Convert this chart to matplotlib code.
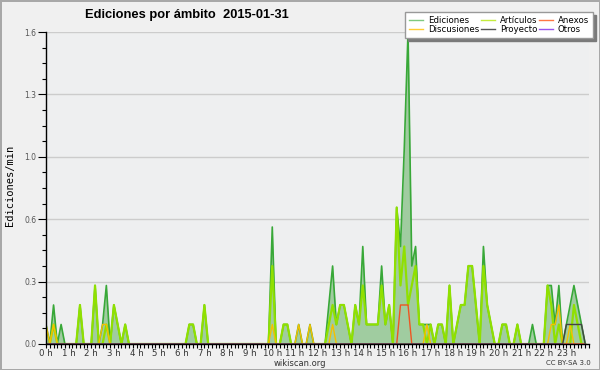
import numpy as np
import matplotlib.pyplot as plt
from matplotlib.lines import Line2D
from matplotlib.ticker import MultipleLocator, FixedLocator, FormatStrFormatter

# Ediciones por minuto en intervalos de 10 min (6 por hora, 144 en total)
ediciones = [
    0.1, 0, 0.2, 0, 0.1, 0,       # 0 h
    0, 0, 0, 0.2, 0, 0,           # 1 h
    0, 0.3, 0, 0.1, 0.3, 0,       # 2 h
    0.2, 0.1, 0, 0.1, 0, 0,       # 3 h
    0, 0, 0, 0, 0, 0,             # 4 h
    0, 0, 0, 0, 0, 0,             # 5 h
    0, 0, 0.1, 0.1, 0, 0,         # 6 h
    0.2, 0, 0, 0, 0, 0,           # 7 h
    0, 0, 0, 0, 0, 0,             # 8 h
    0, 0, 0, 0, 0, 0,             # 9 h
    0.6, 0, 0, 0.1, 0.1, 0,       # 10 h
    0, 0.1, 0, 0, 0.1, 0,         # 11 h
    0, 0, 0, 0.2, 0.4, 0.1,       # 12 h
    0.2, 0.2, 0.1, 0, 0.2, 0.1,   # 13 h
    0.5, 0.1, 0.1, 0.1, 0.1, 0.4, # 14 h
    0.1, 0.2, 0, 0.7, 0.5, 1.0,   # 15 h
    1.6, 0.4, 0.5, 0.1, 0.1, 0.1, # 16 h
    0.1, 0, 0.1, 0.1, 0, 0.3,     # 17 h
    0, 0.1, 0.2, 0.2, 0.4, 0.4,   # 18 h
    0.2, 0, 0.5, 0.2, 0.1, 0,     # 19 h
    0, 0.1, 0.1, 0, 0, 0.1,       # 20 h
    0, 0, 0, 0.1, 0, 0,           # 21 h
    0, 0.3, 0.3, 0.1, 0.3, 0,     # 22 h
    0.1, 0.2, 0.3, 0.2, 0.1, 0,   # 23 h
]

articulos = [
    0, 0, 0.1, 0, 0, 0,
    0, 0, 0, 0.2, 0, 0,
    0, 0.3, 0, 0, 0.1, 0,
    0.2, 0.1, 0, 0.1, 0, 0,
    0, 0, 0, 0, 0, 0,
    0, 0, 0, 0, 0, 0,
    0, 0, 0.1, 0.1, 0, 0,
    0.2, 0, 0, 0, 0, 0,
    0, 0, 0, 0, 0, 0,
    0, 0, 0, 0, 0, 0,
    0.4, 0, 0, 0.1, 0.1, 0,
    0, 0, 0, 0, 0, 0,
    0, 0, 0, 0.1, 0.2, 0.1,
    0.2, 0.2, 0.1, 0, 0.2, 0.1,
    0.3, 0.1, 0.1, 0.1, 0.1, 0.3,
    0.1, 0.2, 0, 0.7, 0.3, 0.5,
    0.2, 0.3, 0.4, 0.1, 0.1, 0,
    0.1, 0, 0.1, 0.1, 0, 0.3,
    0, 0.1, 0.2, 0.2, 0.4, 0.4,
    0.2, 0, 0.4, 0.2, 0.1, 0,
    0, 0.1, 0.1, 0, 0, 0.1,
    0, 0, 0, 0, 0, 0,
    0, 0.3, 0.2, 0, 0.1, 0,
    0, 0, 0.2, 0.1, 0, 0,
]

# series con pocos valores: el resto es cero
discusiones_bins = [0, 2, 15, 16, 60, 67, 70, 76, 101, 134, 135, 136, 139]
discusiones_vals = [0.1, 0.1, 0.1, 0.1, 0.1, 0.1, 0.1, 0.1, 0.1, 0.1, 0.1, 0.2, 0.1]
anexos_bins = [94, 95, 96]
anexos_vals = [0.2, 0.2, 0.2]
proyecto_bins = [138, 139, 140, 141, 142]
proyecto_vals = [0.1, 0.1, 0.1, 0.1, 0.1]

hour_labels = ['%d h' % h for h in range(24)]
ytick_vals = [0, 0.32, 0.64, 0.96, 1.28, 1.6]

n = len(ediciones)
x = np.arange(n) / 6.0
discusiones = np.zeros(n)
discusiones[discusiones_bins] = discusiones_vals
anexos = np.zeros(n)
anexos[anexos_bins] = anexos_vals
proyecto = np.zeros(n)
proyecto[proyecto_bins] = proyecto_vals
otros = np.zeros(n)

fig = plt.figure(figsize=(6, 3.7), dpi=100, facecolor='#f0f0f0',
                 edgecolor='#a8a8a8', linewidth=2)
ax = fig.add_axes([0.0767, 0.0703, 0.905, 0.8432])
ax.set_facecolor('#eeeff0')

ax.fill_between(x, 0, ediciones, color='#a0cca0', lw=0, zorder=2)
ax.plot(x, ediciones, color='#38a838', lw=1.2, zorder=3)
ax.plot(x, articulos, color='#90e000', lw=1.6, zorder=3)
ax.plot(x, discusiones, color='#f5c000', lw=1, zorder=3)
ax.plot(x, anexos, color='#ee5522', lw=1, zorder=3)
ax.plot(x, proyecto, color='#444444', lw=1, zorder=3)
ax.plot(x, otros, color='#8844ee', lw=1, zorder=3)

ax.set_xlim(0, 24)
ax.set_ylim(0, 1.6)

ax.xaxis.set_major_locator(FixedLocator(range(24)))
ax.set_xticklabels(hour_labels)
ax.xaxis.set_minor_locator(MultipleLocator(1 / 6.0))
ax.yaxis.set_major_locator(FixedLocator(ytick_vals))
ax.yaxis.set_major_formatter(FormatStrFormatter('%.1f'))
ax.yaxis.set_minor_locator(MultipleLocator(0.08))

ax.tick_params(axis='x', which='both', length=3, width=0.8, pad=0.5,
               labelsize=6.2, labelcolor='#333333')
ax.tick_params(axis='y', which='major', length=6, width=0.8, pad=1,
               labelsize=5.5, labelcolor='#555555')
ax.tick_params(axis='y', which='minor', length=3, width=0.8)

ax.yaxis.grid(True, color='#cccccc', lw=1)
ax.set_axisbelow(True)
for side in ['top', 'right']:
    ax.spines[side].set_visible(False)
for side in ['left', 'bottom']:
    ax.spines[side].set_linewidth(1)
    ax.spines[side].set_zorder(5)

# leyenda (orden por columnas)
handles = [
    Line2D([], [], color='#7fc97f', lw=1),
    Line2D([], [], color='#ffcc33', lw=1),
    Line2D([], [], color='#c4ec3c', lw=1),
    Line2D([], [], color='#555555', lw=1),
    Line2D([], [], color='#ff7744', lw=1),
    Line2D([], [], color='#9955ee', lw=1),
]
labels = ['Ediciones', 'Discusiones', 'Artículos', 'Proyecto', 'Anexos', 'Otros']
fig.legend(handles, labels, ncol=3, loc='upper left',
           bbox_to_anchor=(0.675, 0.968), fontsize=6.2, frameon=True,
           fancybox=False, shadow={'color': '#7a7a7a', 'alpha': 1},
           edgecolor='#999999', framealpha=1, handlelength=1.6,
           columnspacing=0.2, handletextpad=0.6, borderpad=0.45,
           labelspacing=0.05, borderaxespad=0)

fig.text(0.142, 0.959, 'Ediciones por ámbito  2015-01-31', weight='bold',
         family='Liberation Sans', fontsize=9.3, ha='left', va='center')
fig.text(0.017, 0.5, 'Ediciones/min', rotation=90, family='DejaVu Sans Mono',
         fontsize=7.5, ha='center', va='center')
fig.text(0.5, 0.018, 'wikiscan.org', fontsize=6, ha='center', va='center',
         color='#333333')
fig.text(0.948, 0.018, 'CC BY-SA 3.0', fontsize=5, ha='center', va='center',
         color='#333333')

plt.savefig('out.png', dpi=100)
